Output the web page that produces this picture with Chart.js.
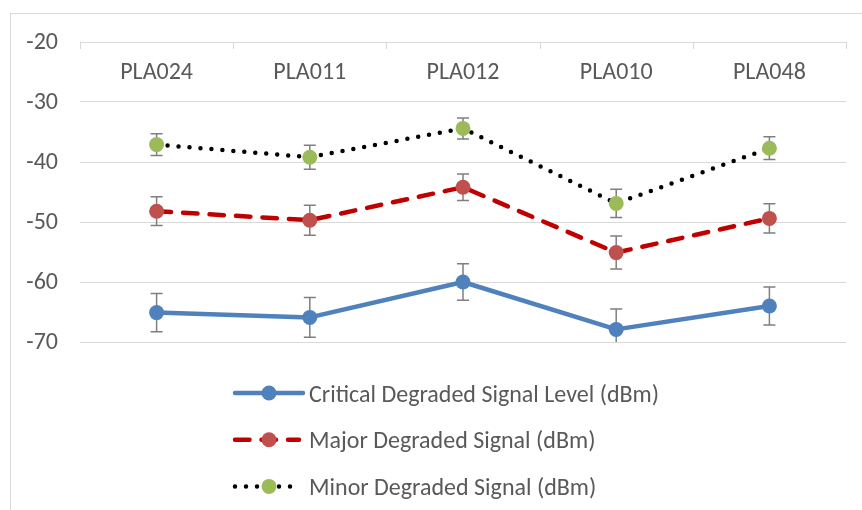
<!DOCTYPE html>
<html><head><meta charset="utf-8">
<script src="https://cdn.jsdelivr.net/npm/chart.js@4.4.1/dist/chart.umd.min.js"></script>
<style>html,body{margin:0;padding:0;background:#fff}canvas{display:block}</style>
</head><body>
<canvas id="chart" width="862" height="510"></canvas>
<script>
// ---- data ----
const categories = ['PLA024', 'PLA011', 'PLA012', 'PLA010', 'PLA048'];
const criticalValues = [-65.1, -65.9, -60.0, -67.9, -64.0];
const majorValues    = [-48.2, -49.7, -44.2, -55.1, -49.4];
const minorValues    = [-37.1, -39.2, -34.4, -46.9, -37.7];
const criticalErrors = [3.2, 3.3, 3.05, 3.4, 3.15];
const majorErrors    = [2.4, 2.5, 2.2, 2.75, 2.45];
const minorErrors    = [1.8, 2.0, 1.75, 2.35, 1.9];
const seriesLabels = ['Critical Degraded Signal Level (dBm)', 'Major Degraded Signal (dBm)', 'Minor Degraded Signal (dBm)'];
const yMin = -70, yMax = -20, yStep = 10;

const FONT = 'Carlito';
const TEXT = '#595959';
const GRID = '#d9d9d9';

const errorSets = [criticalErrors, majorErrors, minorErrors];

const decor = {
  id: 'decor',
  beforeDraw(chart) {
    const ctx = chart.ctx;
    ctx.save();
    ctx.strokeStyle = GRID; ctx.lineWidth = 1;
    ctx.strokeRect(10.5, 13.5, 1000, 1000);
    ctx.restore();
  },
  beforeDatasetsDraw(chart) {
    const ctx = chart.ctx, ca = chart.chartArea;
    const xs = chart.scales.x, ys = chart.scales.y;
    ctx.save();
    ctx.beginPath(); ctx.rect(ca.left, ca.top, ca.right - ca.left, ca.bottom - ca.top); ctx.clip();
    ctx.strokeStyle = '#7f7f7f'; ctx.lineWidth = 1.5;
    chart.data.datasets.forEach((ds, di) => {
      const errs = errorSets[di];
      ds.data.forEach((v, i) => {
        const x = xs.getPixelForValue(i);
        const y1 = ys.getPixelForValue(v + errs[i]);
        const y2 = ys.getPixelForValue(v - errs[i]);
        ctx.beginPath();
        ctx.moveTo(x, y1); ctx.lineTo(x, y2);
        ctx.moveTo(x - 6, y1); ctx.lineTo(x + 6, y1);
        ctx.moveTo(x - 6, y2); ctx.lineTo(x + 6, y2);
        ctx.stroke();
      });
    });
    ctx.restore();
  },
  afterDraw(chart) {
    const ctx = chart.ctx, ca = chart.chartArea;
    const xs = chart.scales.x, ys = chart.scales.y;
    ctx.save();
    // category boundary tick marks on the top axis
    const n = categories.length;
    const axisY = Math.round(ys.getPixelForValue(yMax));
    ctx.strokeStyle = GRID; ctx.lineWidth = 1;
    for (let i = 0; i <= n; i++) {
      let x;
      if (i === 0) x = ca.left;
      else if (i === n) x = ca.right;
      else x = (xs.getPixelForValue(i - 1) + xs.getPixelForValue(i)) / 2;
      x = Math.round(x) + 0.5;
      ctx.beginPath(); ctx.moveTo(x, axisY); ctx.lineTo(x, axisY + 7); ctx.stroke();
    }
    // legend (vertical list)
    const lx0 = 235, lx1 = 303, lmid = 269, tx = 309;
    const baseline0 = 401.5, rowGap = 46.7;
    chart.data.datasets.forEach((ds, di) => {
      const base = baseline0 + di * rowGap;
      const ly = base - 8.5;
      ctx.save();
      ctx.strokeStyle = ds.borderColor;
      ctx.lineWidth = ds.borderWidth;
      ctx.lineCap = 'round';
      ctx.setLineDash(ds.borderDash || []);
      ctx.beginPath();
      ctx.moveTo(lx0, ly);
      ctx.lineTo(di === 0 ? lx1 : (di === 1 ? 299 : 295), ly);
      ctx.stroke();
      ctx.setLineDash([]);
      ctx.fillStyle = ds.pointBackgroundColor;
      ctx.beginPath(); ctx.arc(lmid, ly, ds.pointRadius, 0, Math.PI * 2); ctx.fill();
      ctx.restore();
      ctx.fillStyle = TEXT;
      ctx.font = '24px ' + FONT;
      ctx.textBaseline = 'alphabetic';
      ctx.textAlign = 'left';
      ctx.fillText(ds.label, tx, base);
    });
    ctx.restore();
  }
};

function build() {
  Chart.defaults.font.family = FONT;
  new Chart(document.getElementById('chart'), {
    type: 'line',
    data: {
      labels: categories,
      datasets: [
        {
          label: seriesLabels[0], data: criticalValues,
          borderColor: '#4f81bd', borderWidth: 4.5, borderJoinStyle: 'round', borderCapStyle: 'round',
          pointBackgroundColor: '#4f81bd', pointBorderColor: '#4f81bd', pointBorderWidth: 0, pointRadius: 7.5,
          tension: 0, fill: false
        },
        {
          label: seriesLabels[1], data: majorValues,
          borderColor: '#c00000', borderWidth: 4.5, borderDash: [14.5, 12], borderCapStyle: 'round', borderJoinStyle: 'round',
          pointBackgroundColor: '#c0504d', pointBorderColor: '#c0504d', pointBorderWidth: 0, pointRadius: 7.5,
          tension: 0, fill: false
        },
        {
          label: seriesLabels[2], data: minorValues,
          borderColor: '#000000', borderWidth: 4.5, borderDash: [0, 11], borderCapStyle: 'round', borderJoinStyle: 'round',
          pointBackgroundColor: '#9bbb59', pointBorderColor: '#9bbb59', pointBorderWidth: 0, pointRadius: 7.5,
          tension: 0, fill: false
        }
      ]
    },
    options: {
      responsive: false,
      animation: false,
      events: [],
      layout: { padding: { left: 0, top: 42, right: 16, bottom: 168 } },
      plugins: { legend: { display: false }, tooltip: { enabled: false }, title: { display: false } },
      scales: {
        x: {
          type: 'category',
          position: { y: yMax },
          offset: true,
          grid: { display: false, drawTicks: false },
          border: { display: false },
          ticks: { color: TEXT, font: { family: FONT, size: 24 }, padding: 17, maxRotation: 0, autoSkip: false }
        },
        y: {
          min: yMin, max: yMax,
          grid: { color: GRID, lineWidth: 1, drawTicks: false },
          border: { display: false },
          ticks: { stepSize: yStep, color: TEXT, font: { family: FONT, size: 24 }, padding: 22, labelOffset: 1 },
          afterFit(s) { s.width = 80; }
        }
      }
    },
    plugins: [decor]
  });
}
if (document.fonts && document.fonts.load) {
  document.fonts.load('24px ' + FONT).then(build, build);
} else { build(); }
</script>
</body></html>
